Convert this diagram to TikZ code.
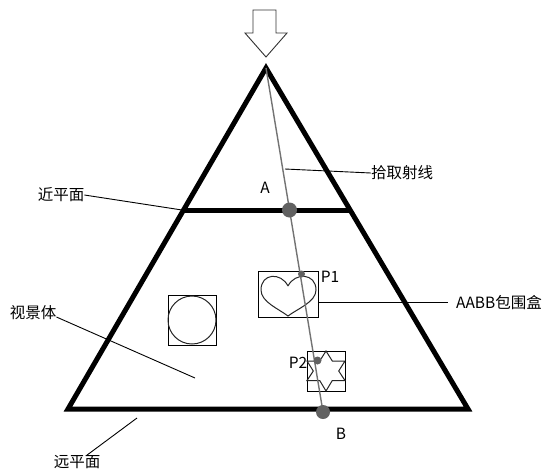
\documentclass[tikz,border=0pt]{standalone}
\usepackage{fontspec}
\newfontfamily\cjk{Noto Sans CJK SC}
\begin{document}
\begin{tikzpicture}[x=1pt,y=-1pt,
 frame/.style={line width=5pt, line join=miter},
 leader/.style={line width=0.9pt, black},
 lbl/.style={font=\cjk\fontsize{15.5}{18}\selectfont, inner sep=0pt},
 dotA/.style={circle, fill=black!62, inner sep=0pt, minimum size=#1},
 bbox/.style={draw, line width=1pt},
 shapeline/.style={line width=1pt, black!85}]
\useasboundingbox (0,0) rectangle (548,472);
\fill[white] (0,0) rectangle (548,472);
% view arrow
\draw[line width=0.9pt, black!80] (253,10) -- (276,10) -- (276,33) -- (287,33) -- (266,57) -- (245,33) -- (253,33) -- cycle;
% frustum
\coordinate (apex) at (266,68);
\coordinate (BL) at (68,409);
\coordinate (BR) at (468,409);
\coordinate (NL) at (182,210);
\coordinate (NR) at (351,210);
\draw[frame] (apex) -- (BR) -- (BL) -- cycle;
\draw[frame] (NL) -- (NR);
% bounding boxes
\draw[bbox] (258,271) rectangle (318,317);
\draw[shapeline] (288,286) .. controls (281,272) and (261,273) .. (261,290) .. controls (261,302) and (279,309) .. (288,316) .. controls (297,309) and (316,302) .. (316,290) .. controls (316,273) and (295,272) .. (288,286);
\draw[bbox] (168,295) rectangle (216,345);
\draw[shapeline] (192,320) circle (24);
\draw[bbox] (307,351) rectangle (345,391);
\draw[shapeline] (326,351) -- (332.3,361) -- (345,361) -- (338.7,371) -- (345,380.5) -- (332.3,380.5) -- (326,391) -- (319.7,380.5) -- (307,380.5) -- (313.3,371) -- (307,361) -- (319.7,361) -- cycle;
% ray
\coordinate (Bpt) at (323,412);
\draw[black!55, line width=1.4pt] (apex) -- (Bpt);
\node[dotA=15pt] (A) at (289.5,210) {};
\node[dotA=14pt] (B) at (323,412) {};
\node[dotA=7pt] (P1) at (301.5,274) {};
\node[dotA=8pt] (P2) at (317.5,360.5) {};
% point labels
\node[lbl] (Alab) at (265,188) {A};
\node[lbl] (Blab) at (341,434) {B};
\node[lbl] (P1lab) at (330,277) {P1};
\node[lbl] (P2lab) at (298,363) {P2};
% annotation labels
\node[lbl] (near) at (61,195) {近平面};
\node[lbl] (ray) at (402,173) {拾取射线};
\node[lbl] (aabb) at (499,303) {AABB包围盒};
\node[lbl] (vol) at (33,313) {视景体};
\node[lbl] (far) at (77,462) {远平面};
% leaders
\coordinate (rayp) at (285,169);
\coordinate (volp) at (195,378);
\coordinate (farp) at (137,418);
\coordinate (aabbp) at (319,302);
\draw[leader] (near.east) -- (NL);
\draw[leader] (rayp) -- (ray.west);
\draw[leader] (aabbp) -- ([xshift=-8pt]aabb.west |- aabbp);
\draw[leader] ([yshift=-4pt]vol.east) -- (volp);
\draw[leader] ([xshift=10pt]far.north) -- (farp);
\end{tikzpicture}
\end{document}
